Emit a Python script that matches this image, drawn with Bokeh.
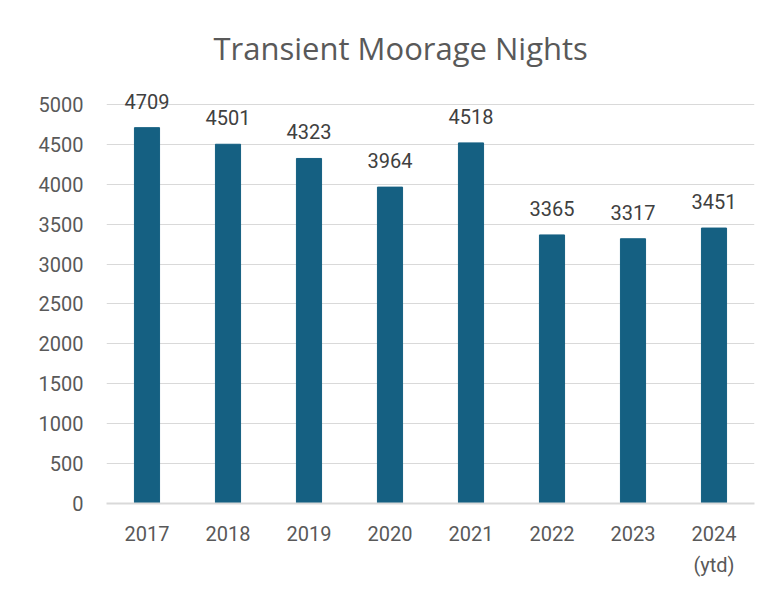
from bokeh.plotting import figure
from bokeh.models import ColumnDataSource, FixedTicker, Range1d, FactorRange, LabelSet
from bokeh.core.properties import value
from bokeh.embed import file_html
from bokeh.resources import INLINE

years = ["2017", "2018", "2019", "2020", "2021", "2022", "2023", "2024\n(ytd)"]
nights = [4709, 4501, 4323, 3964, 4518, 3365, 3317, 3451]
labels = [str(v) for v in nights]
y_ticks = [0, 500, 1000, 1500, 2000, 2500, 3000, 3500, 4000, 4500, 5000]

src = ColumnDataSource(dict(x=years, y=nights, lab=labels))

FONT = "Roboto"
W, H = 759, 582
p = figure(width=W, height=H, x_range=FactorRange(*years, range_padding=0),
           y_range=Range1d(0, 5400), output_backend="svg", toolbar_location=None,
           min_border_left=106, min_border_right=5, min_border_top=72, min_border_bottom=79)

p.vbar(x="x", top="y", width=0.31, source=src, color="#156082")
p.add_layout(LabelSet(x="x", y="y", text="lab", source=src, text_align="center",
                      text_baseline="alphabetic", y_offset=19, text_font=value(FONT),
                      text_font_size="20px", text_color="#404040"))

p.title.text = "Transient Moorage Nights"
p.title.align = "left"
p.title.offset = 107
p.title.standoff = 7
p.title.text_font = "Open Sans"
p.title.text_font_size = "31px"
p.title.text_font_style = "normal"
p.title.text_color = "#595959"

p.outline_line_color = None
p.xgrid.grid_line_color = None
p.ygrid.grid_line_color = "#d9d9d9"
p.ygrid.grid_line_width = 1
p.yaxis.ticker = FixedTicker(ticks=y_ticks)
for ax in (p.xaxis, p.yaxis):
    ax.major_tick_line_color = None
    ax.minor_tick_line_color = None
    ax.major_label_text_font = FONT
    ax.major_label_text_font_size = "20px"
    ax.major_label_text_color = "#595959"
p.yaxis.axis_line_color = None
p.xaxis.axis_line_color = "#d9d9d9"
p.xaxis.axis_line_width = 2
p.yaxis.major_label_standoff = 17
p.xaxis.major_label_standoff = 12
p.xaxis.major_label_text_line_height = 1.3

open("out.html", "w").write(file_html(p, INLINE))
